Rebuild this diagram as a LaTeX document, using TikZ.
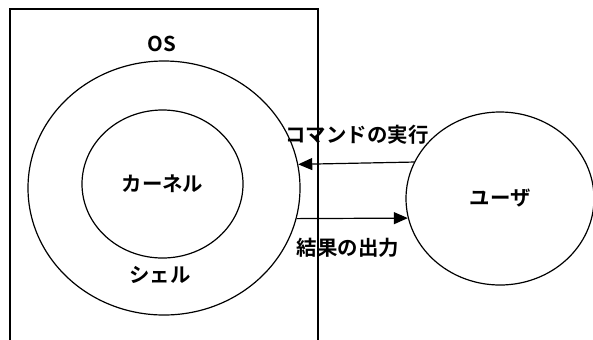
\documentclass[tikz,border=0pt]{standalone}
\usepackage{fontspec}
\setmainfont{Noto Sans CJK JP}[BoldFont={Noto Sans CJK JP Bold}]
\usetikzlibrary{shapes.geometric,arrows.meta}
\tikzset{
    ring/.style={draw, ellipse, line width=1.2bp, inner sep=0pt},
    label text/.style={font=\fontsize{20.5}{20.5}\selectfont\bfseries},
    flow/.style={-{Triangle[length=14bp,width=12bp]}, line width=1.2bp}
}
\begin{document}
\begin{tikzpicture}[x=1bp, y=-1bp]
    % 枠
    \clip (0,0) rectangle (593,339);
    \draw[line width=1.2bp] (10,9) rectangle (318,345);

    % OS の円
    \node[ring, minimum width=272bp, minimum height=254bp] (shell) at (164,188) {};
    \node[ring, minimum width=161bp, minimum height=148bp, label text] (kernel) at (162.5,184) {カーネル};
    \node[ring, minimum width=188bp, minimum height=173bp, label text] (user) at (500,198.5) {ユーザ};

    \node[label text] (os) at (162,44) {OS};
    \node[label text] (shelltext) at (160,275) {シェル};

    % 矢印
    \draw[flow] (user.157.6) -- (shell.10.6);
    \draw[flow] (shell.-13.2) -- (user.192.7);

    \node[label text] (cmd) at (357,135) {コマンドの実行};
    \node[label text] (result) at (348,248) {結果の出力};
\end{tikzpicture}
\end{document}
